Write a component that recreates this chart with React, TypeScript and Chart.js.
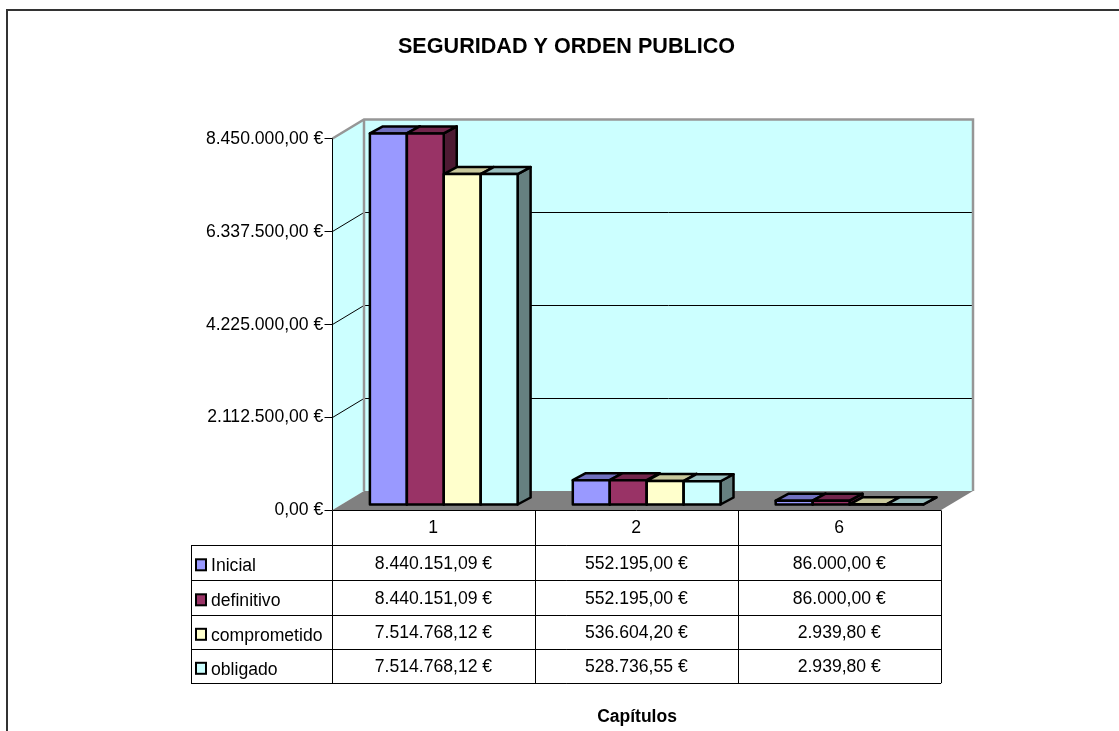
import React, { useEffect, useRef } from "react";
import { Chart, registerables } from "chart.js";

Chart.register(...registerables);

const chartTitle = "SEGURIDAD Y ORDEN PUBLICO";
const xTitle = "Capítulos";
const categories = ["1", "2", "6"];
const inicial = [8440151.09, 552195.0, 86000.0];
const definitivo = [8440151.09, 552195.0, 86000.0];
const comprometido = [7514768.12, 536604.2, 2939.8];
const obligado = [7514768.12, 528736.55, 2939.8];
const seriesNames = ["Inicial", "definitivo", "comprometido", "obligado"];
const seriesValues = [inicial, definitivo, comprometido, obligado];
const frontColors = ["#9999ff", "#993366", "#ffffcc", "#ccffff"];
const topColors = ["#7070bf", "#72264c", "#c8c89c", "#99bfbf"];
const sideColors = ["#4d4d80", "#4d1a33", "#808066", "#668080"];
const yMax = 8450000;
const yStep = 2112500;

const FONT = '"Liberation Sans", Arial, sans-serif';
const FONT_SIZE = 17.6;
const DX = 13, DY = -7; // bar depth
const FRONT_DY = 5.5, FRONT_DX = -9.8; // front plane of the box from the bar plane
const BACK_DX = 21.7, BACK_DY = -13.5; // back wall from the bar plane
const TABLE_LEFT = 191;
const ROW_Y = [545, 580, 615, 649, 683];

const fmt = (v: number) =>
  v.toLocaleString("de-DE", { minimumFractionDigits: 2, maximumFractionDigits: 2 }) + " €";
const snap = (p: number) => Math.floor(p) + 0.5;

const scenery = {
  id: "scenery",
  beforeDatasetsDraw(chart: any) {
    const { ctx, chartArea: a, scales } = chart;
    const y = scales.y;
    const fl = snap(a.left + FRONT_DX), fr = a.right + FRONT_DX;
    const bl = a.left + BACK_DX, br = a.right + 22;
    const fBottom = a.bottom + FRONT_DY, bBottom = a.bottom + BACK_DY;
    const fTop = y.getPixelForValue(yMax) + FRONT_DY, bTop = y.getPixelForValue(yMax) + BACK_DY;
    ctx.save();
    const poly = (pts: number[][], fill?: string, stroke?: string, lw = 1) => {
      ctx.beginPath();
      pts.forEach((p, i) => (i ? ctx.lineTo(p[0], p[1]) : ctx.moveTo(p[0], p[1])));
      if (fill) { ctx.fillStyle = fill; ctx.closePath(); ctx.fill(); }
      if (stroke) { ctx.strokeStyle = stroke; ctx.lineWidth = lw; ctx.stroke(); }
    };
    // walls and floor
    poly([[bl, bTop], [br, bTop], [br, bBottom], [bl, bBottom]], "#ccffff");
    poly([[fl, fTop], [bl, bTop], [bl, bBottom], [fl, fBottom]], "#ccffff");
    poly([[fl, fBottom], [bl, bBottom], [br, bBottom], [fr, fBottom]], "#808080");
    // grid lines
    for (let v = yStep; v < yMax; v += yStep) {
      const p = y.getPixelForValue(v);
      poly([[fl, snap(p + FRONT_DY)], [bl, snap(p + BACK_DY)], [br, snap(p + BACK_DY)]], undefined, "#000", 1);
    }
    // wall edges
    poly([[fl, fTop], [bl, bTop], [br, bTop], [br, bBottom]], undefined, "#969696", 2.5);
    poly([[bl, bTop], [bl, bBottom]], undefined, "#969696", 2.5);
    // vertical axis and tick marks
    poly([[fl, fTop], [fl, fBottom]], undefined, "#000", 1);
    for (let v = 0; v <= yMax; v += yStep) {
      const p = snap(y.getPixelForValue(v) + FRONT_DY);
      poly([[fl - 8, p], [fl, p]], undefined, "#000", 1);
    }
    // side and top faces of bars
    ctx.lineJoin = "round";
    seriesValues.forEach((_, i) => {
      const meta = chart.getDatasetMeta(i);
      meta.data.forEach((bar: any) => {
        const r = bar.x + bar.width / 2;
        ctx.beginPath();
        ctx.moveTo(r, bar.y);
        ctx.lineTo(r + DX, bar.y + DY);
        ctx.lineTo(r + DX, bar.base + DY);
        ctx.lineTo(r, bar.base);
        ctx.closePath();
        ctx.fillStyle = sideColors[i];
        ctx.fill();
        ctx.strokeStyle = "#000";
        ctx.lineWidth = 2.5;
        ctx.stroke();
      });
    });
    seriesValues.forEach((_, i) => {
      const meta = chart.getDatasetMeta(i);
      meta.data.forEach((bar: any) => {
        const l = bar.x - bar.width / 2, r = bar.x + bar.width / 2;
        ctx.beginPath();
        ctx.moveTo(l, bar.y);
        ctx.lineTo(l + DX, bar.y + DY);
        ctx.lineTo(r + DX, bar.y + DY);
        ctx.lineTo(r, bar.y);
        ctx.closePath();
        ctx.fillStyle = topColors[i];
        ctx.fill();
        ctx.strokeStyle = "#000";
        ctx.lineWidth = 2.5;
        ctx.stroke();
      });
    });
    ctx.restore();
  },
  afterDatasetsDraw(chart: any) {
    const { ctx } = chart;
    ctx.save();
    ctx.lineJoin = "round";
    ctx.strokeStyle = "#000";
    ctx.lineWidth = 2.5;
    seriesValues.forEach((_, i) => {
      chart.getDatasetMeta(i).data.forEach((bar: any) => {
        const l = bar.x - bar.width / 2;
        ctx.strokeRect(l, bar.y, bar.width, bar.base - bar.y);
      });
    });
    ctx.restore();
  },
  afterDraw(chart: any) {
    const { ctx, chartArea: a, scales } = chart;
    const x = scales.x;
    const fl = a.left + FRONT_DX, fr = a.right + FRONT_DX;
    const fBottom = snap(a.bottom + FRONT_DY);
    const colW = (fr - fl) / categories.length;
    ctx.save();
    // outer frame
    ctx.strokeStyle = "#333";
    ctx.lineWidth = 2;
    ctx.beginPath();
    ctx.moveTo(7, 731);
    ctx.lineTo(7, 10);
    ctx.lineTo(1119, 10);
    ctx.stroke();
    // title and axis title
    ctx.fillStyle = "#000";
    ctx.textAlign = "center";
    ctx.textBaseline = "middle";
    ctx.font = `bold 21.6px ${FONT}`;
    ctx.fillText(chartTitle, 566.5, 47);
    ctx.font = `bold 17.5px ${FONT}`;
    ctx.fillText(xTitle, 637, 717);
    // data table grid
    ctx.strokeStyle = "#000";
    ctx.lineWidth = 1;
    ctx.beginPath();
    ctx.moveTo(fl, fBottom);
    ctx.lineTo(fr, fBottom);
    ROW_Y.forEach((ry) => {
      ctx.moveTo(TABLE_LEFT, ry + 0.5);
      ctx.lineTo(fr, ry + 0.5);
    });
    ctx.moveTo(TABLE_LEFT + 0.5, ROW_Y[0]);
    ctx.lineTo(TABLE_LEFT + 0.5, ROW_Y[4]);
    for (let c = 0; c <= categories.length; c++) {
      const cx = snap(fl + c * colW);
      ctx.moveTo(cx, fBottom);
      ctx.lineTo(cx, ROW_Y[4]);
    }
    ctx.stroke();
    // data table content
    seriesNames.forEach((name, i) => {
      const top = ROW_Y[i], bot = ROW_Y[i + 1];
      const mid = (top + bot) / 2;
      ctx.fillStyle = frontColors[i];
      ctx.strokeStyle = "#000";
      ctx.lineWidth = 2;
      ctx.fillRect(196, mid - 3.2, 10, 11);
      ctx.strokeRect(196, mid - 3.2, 10, 11);
      ctx.fillStyle = "#000";
      ctx.font = `${FONT_SIZE}px ${FONT}`;
      ctx.textAlign = "left";
      ctx.fillText(name, 211, mid + 4);
      ctx.textAlign = "center";
      seriesValues[i].forEach((v, c) => {
        ctx.fillText(fmt(v), x.getPixelForValue(c) + FRONT_DX - 0.5, mid + 1.5);
      });
    });
    ctx.restore();
  },
};

export default function App() {
  const ref = useRef<HTMLCanvasElement>(null);
  useEffect(() => {
    const chart = new Chart(ref.current!, {
      type: "bar",
      data: {
        labels: categories,
        datasets: seriesNames.map((name, i) => ({
          label: name,
          data: seriesValues[i],
          backgroundColor: frontColors[i],
          borderWidth: 0,
          categoryPercentage: 0.728,
          barPercentage: 1,
        })),
      },
      options: {
        animation: false,
        responsive: false,
        layout: { padding: { top: 133, right: 168, bottom: 0, left: 0 } },
        plugins: { legend: { display: false }, tooltip: { enabled: false }, title: { display: false } },
        scales: {
          x: {
            grid: { display: false, drawTicks: false },
            border: { display: false },
            afterFit: (s: any) => { s.height = 226.5; },
            ticks: { labelOffset: -10.5, padding: 13, color: "#000", font: { family: FONT, size: FONT_SIZE } },
          },
          y: {
            min: 0,
            max: yMax,
            afterFit: (s: any) => { s.width = 342.3; },
            afterBuildTicks: (s: any) => {
              const t = [];
              for (let v = 0; v <= yMax; v += yStep) t.push({ value: v });
              s.ticks = t;
            },
            grid: { display: false, drawTicks: false },
            border: { display: false },
            ticks: {
              labelOffset: 6,
              padding: 19,
              color: "#000",
              font: { family: FONT, size: FONT_SIZE },
              callback: (v: any) => fmt(Number(v)),
            },
          },
        },
      },
      plugins: [scenery],
    } as any);
    return () => chart.destroy();
  }, []);
  return (
    <canvas
      ref={ref}
      width={1119}
      height={731}
      style={{ position: "absolute", left: 0, top: 0, display: "block" }}
    />
  );
}
